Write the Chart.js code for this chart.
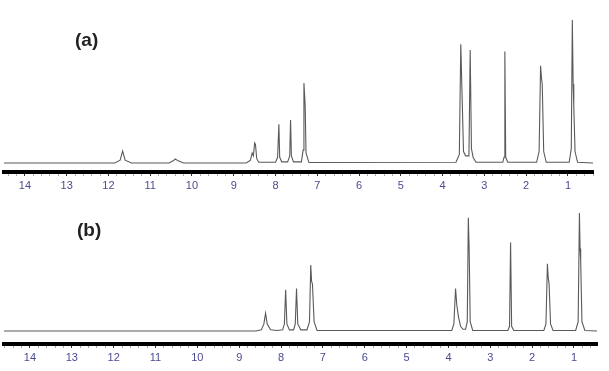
<!DOCTYPE html>
<html>
<head>
<meta charset="utf-8">
<script src="https://cdn.jsdelivr.net/npm/chart.js@4.4.1/dist/chart.umd.min.js"></script>
<style>
  body { margin: 0; background: #fff; width: 609px; height: 371px; position: relative; overflow: hidden; }
  canvas { position: absolute; left: 0; }
  #chartA { top: 0; }
  #chartB { top: 190px; }
  .tag { position: absolute; font-family: "Liberation Sans", Arial, sans-serif; font-weight: bold; font-size: 19px; color: #222; }
</style>
</head>
<body>
<canvas id="chartA" width="609" height="195"></canvas>
<canvas id="chartB" width="609" height="181"></canvas>
<div class="tag" style="left:75px; top:29px;">(a)</div>
<div class="tag" style="left:77px; top:219px;">(b)</div>
<script>
// tick labels (ppm)
const tickLabels = [14, 13, 12, 11, 10, 9, 8, 7, 6, 5, 4, 3, 2, 1];

// spectrum (a): chemical shift (ppm) and intensity
const ppmA = [14.5, 11.85, 11.72, 11.66, 11.6, 11.45, 10.55, 10.45, 10.4, 10.33, 10.2,
  8.7, 8.6, 8.56, 8.53, 8.5, 8.48, 8.45, 8.4, 8.0, 7.95, 7.92, 7.9, 7.85,
  7.71, 7.66, 7.64, 7.62, 7.57, 7.38, 7.34, 7.32, 7.29, 7.27, 7.2,
  3.68, 3.6, 3.565, 3.545, 3.5, 3.45, 3.37, 3.34, 3.31, 3.27, 3.2,
  2.56, 2.53, 2.51, 2.49, 2.44, 1.75, 1.69, 1.655, 1.635, 1.615, 1.58, 1.52,
  0.97, 0.92, 0.895, 0.875, 0.86, 0.83, 0.77, 0.4];
const intA = [0, 0, 2, 8.4, 2, 0, 0, 1.5, 2.8, 1.5, 0,
  0, 2, 7, 5, 14, 13, 3, 0.5, 0.5, 4, 27, 4, 0.8,
  0.8, 5, 30, 5, 0.8, 0.8, 9, 56, 40, 7, 0.3,
  0.5, 6, 83, 60, 8, 5, 5, 79, 10, 4, 0.5,
  0.5, 4, 78, 4, 0.5, 0.5, 8, 68, 60, 55, 8, 0.5,
  0.5, 10, 100, 55, 40, 8, 0.5, 0];

// spectrum (b)
const ppmB = [14.62, 8.6, 8.47, 8.41, 8.37, 8.33, 8.25, 8.1, 7.96, 7.92, 7.89, 7.86, 7.8,
  7.7, 7.66, 7.63, 7.6, 7.53, 7.38, 7.32, 7.29, 7.27, 7.25, 7.21, 7.14,
  3.92, 3.87, 3.83, 3.8, 3.76, 3.71, 3.65, 3.59, 3.55, 3.525, 3.505, 3.48, 3.42,
  2.58, 2.54, 2.515, 2.49, 2.44, 1.72, 1.67, 1.635, 1.615, 1.595, 1.56, 1.5,
  0.96, 0.9, 0.87, 0.855, 0.84, 0.81, 0.74, 0.45];
const intB = [0, 0, 1, 6, 15, 6, 1, 0.5, 1, 6, 35, 6, 1,
  1, 6, 36, 6, 1, 1, 8, 56, 42, 40, 8, 0.5,
  0.5, 6, 36, 22, 12, 4, 1.5, 1.5, 8, 96, 70, 8, 0.5,
  0.5, 4, 75, 4, 0.5, 0.5, 6, 57, 45, 40, 6, 0.5,
  0.5, 8, 100, 70, 60, 8, 0.5, 0];

function toPoints(xs, ys) {
  return xs.map((x, i) => ({ x: x, y: ys[i] }));
}

function isMajor(v) {
  return tickLabels.some(t => Math.abs(t - v) < 1e-6);
}

function makeSpectrum(id, xs, ys, xMin, xMax, yMin, yMax, pad) {
  const ctx = document.getElementById(id).getContext("2d");
  return new Chart(ctx, {
    type: 'scatter',
    data: {
      datasets: [{
        data: toPoints(xs, ys),
        showLine: true,
        borderColor: '#5a5a5a',
        borderWidth: 1.1,
        pointRadius: 0,
        tension: 0
      }]
    },
    options: {
      responsive: false,
      animation: false,
      devicePixelRatio: 1,
      layout: { padding: pad },
      plugins: { legend: { display: false }, tooltip: { enabled: false } },
      scales: {
        x: {
          type: 'linear',
          reverse: true,
          min: xMin,
          max: xMax,
          afterBuildTicks: (scale) => {
            const ticks = [];
            for (let k = Math.ceil(xMin * 5); k <= Math.floor(xMax * 5); k++) {
              ticks.push({ value: k / 5 });
            }
            scale.ticks = ticks;
          },
          afterFit: (scale) => { scale.height = 23; },
          border: { display: true, color: '#000', width: 4 },
          grid: {
            drawOnChartArea: false,
            drawTicks: true,
            tickLength: 4,
            tickColor: (c) => c.tick && isMajor(c.tick.value) ? '#333' : '#aaa',
            tickWidth: 1
          },
          ticks: {
            autoSkip: false,
            maxRotation: 0,
            padding: 3,
            color: '#4a4a92',
            font: { family: 'Liberation Sans', size: 11 },
            callback: (v) => isMajor(v) ? String(Math.round(v)) : ''
          }
        },
        y: {
          display: false,
          min: yMin,
          max: yMax
        }
      }
    }
  });
}

makeSpectrum('chartA', ppmA, intA, 0.4, 14.5, -6.3, 107, { left: 4, right: 16, top: 10, bottom: 0 });
makeSpectrum('chartB', ppmB, intB, 0.45, 14.62, -11, 106.8, { left: 4, right: 12, top: 15, bottom: 4 });
</script>
</body>
</html>
